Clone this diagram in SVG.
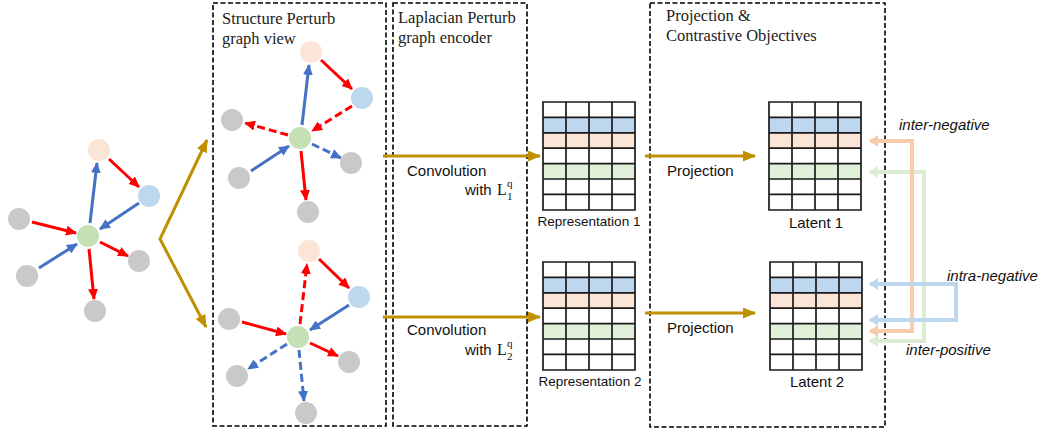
<svg xmlns="http://www.w3.org/2000/svg" width="1042" height="434" viewBox="0 0 1042 434">
<style>
.box{fill:none;stroke:#000;stroke-width:1.6;stroke-dasharray:5 2.5}
.hdr{font-family:"Liberation Serif",serif;font-size:16.5px;fill:#222}
.lbl{font-family:"Liberation Sans",Arial,sans-serif;font-size:15px;fill:#111}
.cap{font-family:"Liberation Sans",Arial,sans-serif;font-size:13.5px;fill:#111}
.it{font-family:"Liberation Sans",Arial,sans-serif;font-size:15px;font-style:italic;fill:#111}
.math{font-family:"Liberation Serif",serif;fill:#111}
.peach{fill:#FBE5D6}.bluen{fill:#BDD7EE}.green{fill:#C5E0B4}.gray{fill:#C9C9C9}
.r{stroke:#FF0000;stroke-width:3;fill:none;marker-end:url(#ar)}
.b{stroke:#4472C4;stroke-width:3;fill:none;marker-end:url(#ab)}
.d{stroke-dasharray:8 4}
.gold{stroke:#BF9000;stroke-width:3;fill:none;marker-end:url(#ag)}
.grid{fill:none;stroke:#1a1a1a;stroke-width:1.7}
.cb{fill:#BDD7EE}.cp{fill:#FBE5D6}.cg{fill:#E2F0D9}
.co{stroke:#F8CBAD;stroke-width:4;fill:none;marker-start:url(#mo);marker-end:url(#mo)}
.cgr{stroke:#DDEDD3;stroke-width:4;fill:none;marker-start:url(#mg);marker-end:url(#mg)}
.cbl{stroke:#BDD7EE;stroke-width:4;fill:none;marker-start:url(#mb);marker-end:url(#mb)}
</style>
<defs>
<marker id="ar" markerUnits="userSpaceOnUse" markerWidth="11" markerHeight="10" refX="10" refY="5" orient="auto"><path d="M0,0 L11,5 L0,10 z" fill="#FF0000"/></marker>
<marker id="ab" markerUnits="userSpaceOnUse" markerWidth="11" markerHeight="10" refX="10" refY="5" orient="auto"><path d="M0,0 L11,5 L0,10 z" fill="#4472C4"/></marker>
<marker id="ag" markerUnits="userSpaceOnUse" markerWidth="13" markerHeight="11" refX="12" refY="5.5" orient="auto-start-reverse"><path d="M0,0 L13,5.5 L0,11 z" fill="#BF9000"/></marker>
<marker id="mo" markerUnits="userSpaceOnUse" markerWidth="9" markerHeight="12" refX="8" refY="6" orient="auto-start-reverse"><path d="M0,0 L9,6 L0,12 z" fill="#F8CBAD"/></marker>
<marker id="mg" markerUnits="userSpaceOnUse" markerWidth="9" markerHeight="12" refX="8" refY="6" orient="auto-start-reverse"><path d="M0,0 L9,6 L0,12 z" fill="#DDEDD3"/></marker>
<marker id="mb" markerUnits="userSpaceOnUse" markerWidth="9" markerHeight="12" refX="8" refY="6" orient="auto-start-reverse"><path d="M0,0 L9,6 L0,12 z" fill="#BDD7EE"/></marker>
<g id="tbl">
<rect x="0" y="15.4" width="92" height="15.4" class="cb"/>
<rect x="0" y="30.8" width="92" height="15.4" class="cp"/>
<rect x="0" y="61.6" width="92" height="15.4" class="cg"/>
<path class="grid" d="M0,0H92V108H0Z M0,15.4H92 M0,30.8H92 M0,46.2H92 M0,61.6H92 M0,77H92 M0,92.4H92 M23,0V108 M46,0V108 M69,0V108"/>
</g>
</defs>

<!-- panels -->
<g id="panel-structure">
<rect class="box" x="213" y="3" width="173" height="423"/>
<text class="hdr" x="222" y="24">Structure Perturb</text>
<text class="hdr" x="222" y="44">graph view</text>
</g>
<g id="panel-laplacian">
<rect class="box" x="393" y="3" width="134" height="423"/>
<text class="hdr" x="398" y="23">Laplacian Perturb</text>
<text class="hdr" x="398" y="43">graph encoder</text>
</g>
<g id="panel-projection">
<rect class="box" x="650" y="3" width="235" height="424"/>
<text class="hdr" x="666" y="21">Projection &amp;</text>
<text class="hdr" x="666" y="41">Contrastive Objectives</text>
</g>

<!-- connectors -->
<g id="connectors">
<line class="b" x1="90" y1="223" x2="97" y2="163"/>
<line class="r" x1="109" y1="159" x2="139" y2="187"/>
<line class="b" x1="139" y1="203" x2="100" y2="229"/>
<line class="r" x1="32" y1="222" x2="76" y2="233"/>
<line class="b" x1="39" y1="268" x2="77" y2="244"/>
<line class="r" x1="100" y1="242" x2="128" y2="256"/>
<line class="r" x1="89" y1="249" x2="94" y2="299"/>
<line class="b" x1="302" y1="125" x2="309" y2="65"/>
<line class="r" x1="321" y1="60" x2="352" y2="89"/>
<line class="r d" x1="352" y1="106" x2="312" y2="131"/>
<line class="r d" x1="288" y1="135" x2="245" y2="123"/>
<line class="b" x1="251" y1="171" x2="289" y2="146"/>
<line class="b d" x1="312" y1="144" x2="341" y2="158"/>
<line class="r" x1="301" y1="151" x2="306" y2="200"/>
<line class="r d" x1="300" y1="324" x2="307" y2="264"/>
<line class="r" x1="319" y1="259" x2="349" y2="288"/>
<line class="b" x1="349" y1="305" x2="310" y2="330"/>
<line class="r" x1="242" y1="322" x2="286" y2="334"/>
<line class="b d" x1="287" y1="344" x2="248" y2="369"/>
<line class="r" x1="310" y1="343" x2="338" y2="356"/>
<line class="b d" x1="299" y1="350" x2="304" y2="401"/>
<polyline class="gold" style="marker-start:url(#ag)" points="207,140 160,239 206,327"/>
<line class="gold" x1="383" y1="156" x2="540" y2="156"/>
<line class="gold" x1="645" y1="156" x2="755" y2="156"/>
<line class="gold" x1="383" y1="317" x2="540" y2="317"/>
<line class="gold" x1="645" y1="313" x2="755" y2="313"/>
<polyline class="cgr" points="870,341 924,341 924,172 870,172"/>
<polyline class="co" points="870,331 912,331 912,141 870,141"/>
<polyline class="cbl" points="870,284 956,284 956,320 870,320"/>
</g>

<g id="g0-nodes">
<circle class="peach" cx="99" cy="150" r="11"/>
<circle class="bluen" cx="149" cy="196" r="11"/>
<circle class="green" cx="88" cy="236" r="11"/>
<circle class="gray" cx="19" cy="219" r="11"/>
<circle class="gray" cx="27" cy="276" r="11"/>
<circle class="gray" cx="139" cy="261" r="11"/>
<circle class="gray" cx="95" cy="311" r="11"/>
</g>
<g id="g1-nodes">
<circle class="peach" cx="311" cy="52" r="11"/>
<circle class="bluen" cx="362" cy="98" r="11"/>
<circle class="green" cx="300" cy="138" r="11"/>
<circle class="gray" cx="232" cy="120" r="11"/>
<circle class="gray" cx="239" cy="178" r="11"/>
<circle class="gray" cx="351" cy="163" r="11"/>
<circle class="gray" cx="308" cy="212" r="11"/>
</g>
<g id="g2-nodes">
<circle class="peach" cx="309" cy="251" r="11"/>
<circle class="bluen" cx="359" cy="297" r="11"/>
<circle class="green" cx="298" cy="337" r="11"/>
<circle class="gray" cx="229" cy="319" r="11"/>
<circle class="gray" cx="237" cy="376" r="11"/>
<circle class="gray" cx="349" cy="362" r="11"/>
<circle class="gray" cx="306" cy="413" r="11"/>
</g>

<g id="conv1">
<text class="lbl" x="407" y="176">Convolution</text>
<text class="lbl" x="465" y="195">with</text>
<text class="math" x="497" y="195" font-size="16">L</text>
<text class="math" x="507" y="187" font-size="11">q</text>
<text class="math" x="507" y="200" font-size="11">1</text>
</g>
<g id="conv2">
<text class="lbl" x="407" y="335">Convolution</text>
<text class="lbl" x="465" y="355">with</text>
<text class="math" x="497" y="355" font-size="16">L</text>
<text class="math" x="507" y="347" font-size="11">q</text>
<text class="math" x="507" y="360" font-size="11">2</text>
</g>
<g id="proj-labels">
<text class="lbl" x="667" y="176">Projection</text>
<text class="lbl" x="667" y="333">Projection</text>
</g>

<g id="rep1"><use href="#tbl" x="543" y="102"/><text class="cap" x="589" y="226" text-anchor="middle">Representation 1</text></g>
<g id="rep2"><use href="#tbl" x="543" y="262"/><text class="cap" x="590" y="386" text-anchor="middle">Representation 2</text></g>
<g id="lat1"><use href="#tbl" x="769" y="102"/><text class="lbl" x="816" y="228" text-anchor="middle">Latent 1</text></g>
<g id="lat2"><use href="#tbl" x="770" y="262"/><text class="lbl" x="817" y="387" text-anchor="middle">Latent 2</text></g>

<g id="contrast-labels">
<text class="it" x="899" y="130">inter-negative</text>
<text class="it" x="947" y="281">intra-negative</text>
<text class="it" x="906" y="355">inter-positive</text>
</g>
</svg>
